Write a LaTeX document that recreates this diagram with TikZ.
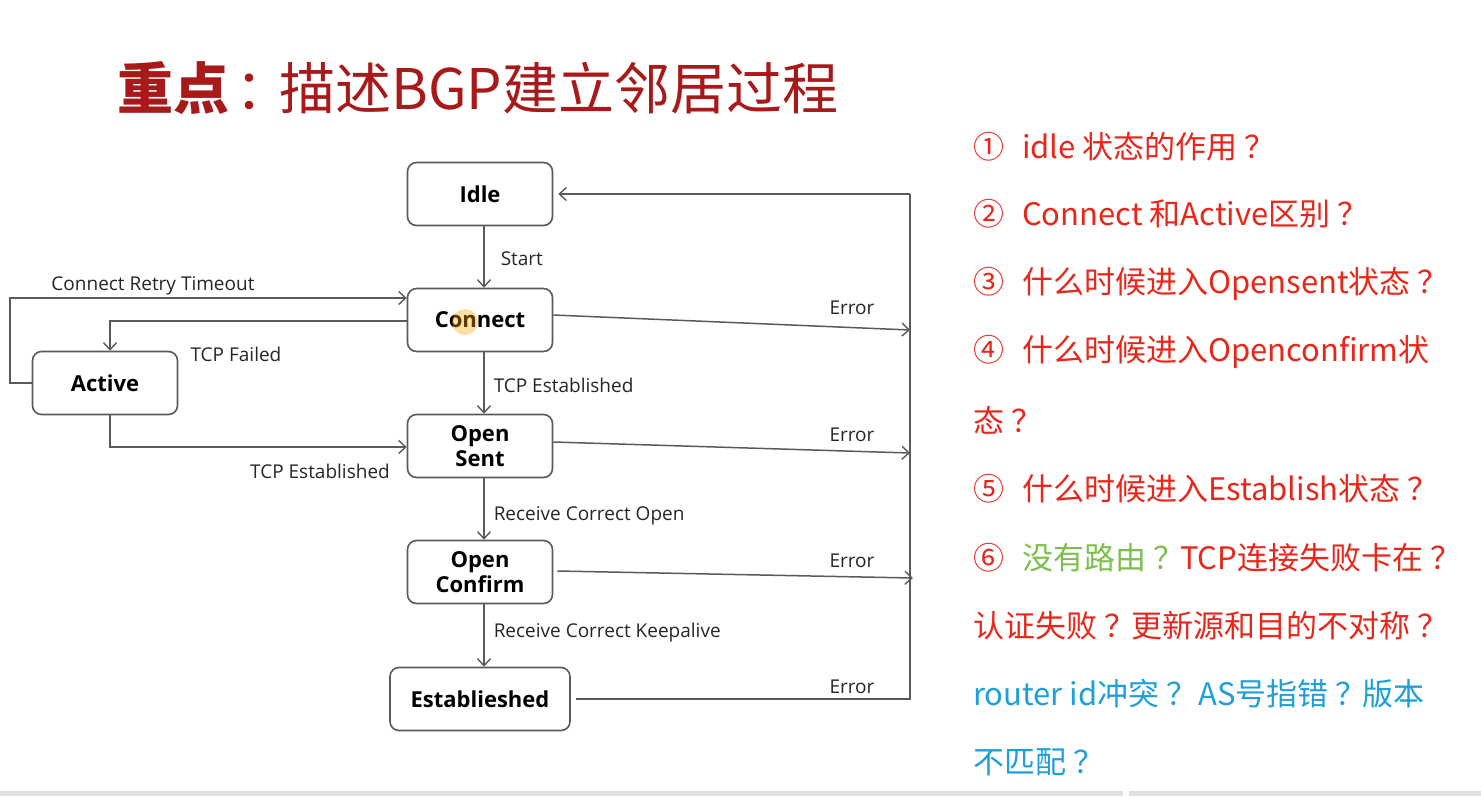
\documentclass[tikz,border=0pt]{standalone}
\usepackage{fontspec}
\setmainfont{Open Sans}
\newfontfamily\cjk{Noto Sans CJK SC}
\usetikzlibrary{arrows.meta}
\definecolor{linegray}{HTML}{5A5A5A}
\definecolor{qred}{HTML}{E8261A}
\definecolor{qgreen}{HTML}{7DBE4E}
\definecolor{qblue}{HTML}{1E9FD8}
\definecolor{titlered}{HTML}{A8191A}
\newcommand{\qm}{\hspace{7pt}？}
\tikzset{
  state/.style={draw=linegray, line width=1.6pt, rounded corners=9pt, fill=white,
    minimum width=145pt, minimum height=63pt, inner sep=0pt, align=center,
    font=\fontsize{22}{26}\selectfont\bfseries, text=black},
  conn/.style={draw=linegray, line width=1.5pt, -{Straight Barb[length=7pt,width=13pt,line width=1.4pt]}},
  plain/.style={draw=linegray, line width=1.5pt},
  lbl/.style={font=\fontsize{19}{22}\selectfont, text=black!85, inner sep=0pt},
  qline/.style={font=\cjk\fontsize{31}{36}\selectfont, anchor=west, inner sep=0pt}
}
\begin{document}
\begin{tikzpicture}[x=1pt,y=-1pt]
\useasboundingbox (0,0) rectangle (1481,796);
\fill[white] (0,0) rectangle (1481,796);
% bottom strip
\fill[black!12] (0,791) rectangle (1123,796);
\fill[black!12] (1129,791) rectangle (1481,796);

% title
\node[anchor=west, inner sep=0pt, text=titlered, font=\cjk\fontsize{56}{60}\selectfont] (title) at (117,88) {\textbf{重点}\hspace{6pt}：\hspace{-12pt}描述BGP建立邻居过程};

% states
\node[state] (idle) at (480,194) {Idle};
\node[state] (connect) at (480,320) {Connect};
\node[state] (opensent) at (480,446) {Open\\[-1pt]Sent};
\node[state] (openconfirm) at (480,572) {Open\\[-1pt]Confirm};
\node[state, minimum width=180pt] (estab) at (480,699) {Establieshed};
\node[state] (active) at (105,383) {Active};

% cursor highlight
\fill[orange!70!yellow, opacity=0.35] (465,322) circle (13);

% coordinates
\coordinate (rtop) at (910,194);
\coordinate (rbot) at (910,699);
\coordinate (c1) at (910,330);
\coordinate (c2) at (910,453);
\coordinate (c3) at (913,578);
\coordinate (l1) at (10,383);
\coordinate (l2) at (10,298);
\coordinate (f1) at (110,321);
\coordinate (t1) at (110,447);

% vertical transitions
\draw[conn] (idle.south -| 484,0) -- (connect.north -| 484,0) node[lbl, midway, anchor=west, xshift=16pt, yshift=-1.5pt] (lstart) {Start};
\draw[conn] (connect.south -| 484,0) -- (opensent.north -| 484,0) node[lbl, midway, anchor=west, xshift=9pt, yshift=-2.5pt] (ltcp1) {TCP Established};
\draw[conn] (opensent.south -| 484,0) -- (openconfirm.north -| 484,0) node[lbl, midway, anchor=west, xshift=9pt, yshift=-6.5pt] (lrco) {Receive Correct Open};
\draw[conn] (openconfirm.south -| 484,0) -- (estab.north -| 484,0) node[lbl, midway, anchor=west, xshift=9pt, yshift=3pt] (lrck) {Receive Correct Keepalive};

% error transitions
\draw[conn] ([yshift=5pt]connect.east) -- (c1);
\draw[conn] ([yshift=4pt]opensent.east) -- (c2);
\draw[conn] ([xshift=4pt,yshift=1pt]openconfirm.east) -- (c3);
\draw[plain] ([xshift=5pt]estab.east) -- (rbot) -- (rtop);
\draw[conn] (rtop) -- ([xshift=5pt]idle.east);
\node[lbl] (e1) at (852,308) {Error};
\node[lbl] (e2) at (852,435) {Error};
\node[lbl] (e3) at (852,561) {Error};
\node[lbl] (e4) at (852,687) {Error};

% left side transitions
\draw[conn] (active.west) -- (l1) -- (l2) -- (l2 -| connect.west);
\node[lbl] (lcrt) at (153,286) {Connect Retry Timeout};
\draw[conn] (f1 -| connect.west) -- (f1) -- (active.north -| f1);
\node[lbl] (ltf) at (236,354) {TCP Failed};
\draw[conn] (active.south -| t1) -- (t1) -- (t1 -| opensent.west);
\node[lbl] (ltcp2) at (320,471) {TCP Established};

% questions
\node[qline, text=qred] (q1) at (973,147) {①\hspace{18pt}idle 状态的作用\qm};
\node[qline, text=qred] (q2) at (973,214) {②\hspace{18pt}Connect 和Active区别\qm};
\node[qline, text=qred] (q3) at (973,284) {③\hspace{18pt}什么时候进入Opensent状态\qm};
\node[qline, text=qred] (q4) at (973,352) {④\hspace{18pt}什么时候进入Openconfirm状};
\node[qline, text=qred] (q4b) at (973,420) {态\qm};
\node[qline, text=qred] (q5) at (973,489) {⑤\hspace{18pt}什么时候进入Establish状态\qm};
\node[qline, text=qred] (q6) at (973,558) {⑥\hspace{18pt}\textcolor{qgreen}{没有路由\qm}\hspace{-4pt}TCP连接失败卡在\qm};
\node[qline, text=qred] (q7) at (973,626) {认证失败\qm\hspace{-4pt}更新源和目的不对称\qm};
\node[qline, text=qblue] (q8) at (973,694) {router id冲突\qm\hspace{-6pt} AS号指错\qm\hspace{-4pt}版本};
\node[qline, text=qblue] (q9) at (973,762) {不匹配\qm};
\end{tikzpicture}
\end{document}
